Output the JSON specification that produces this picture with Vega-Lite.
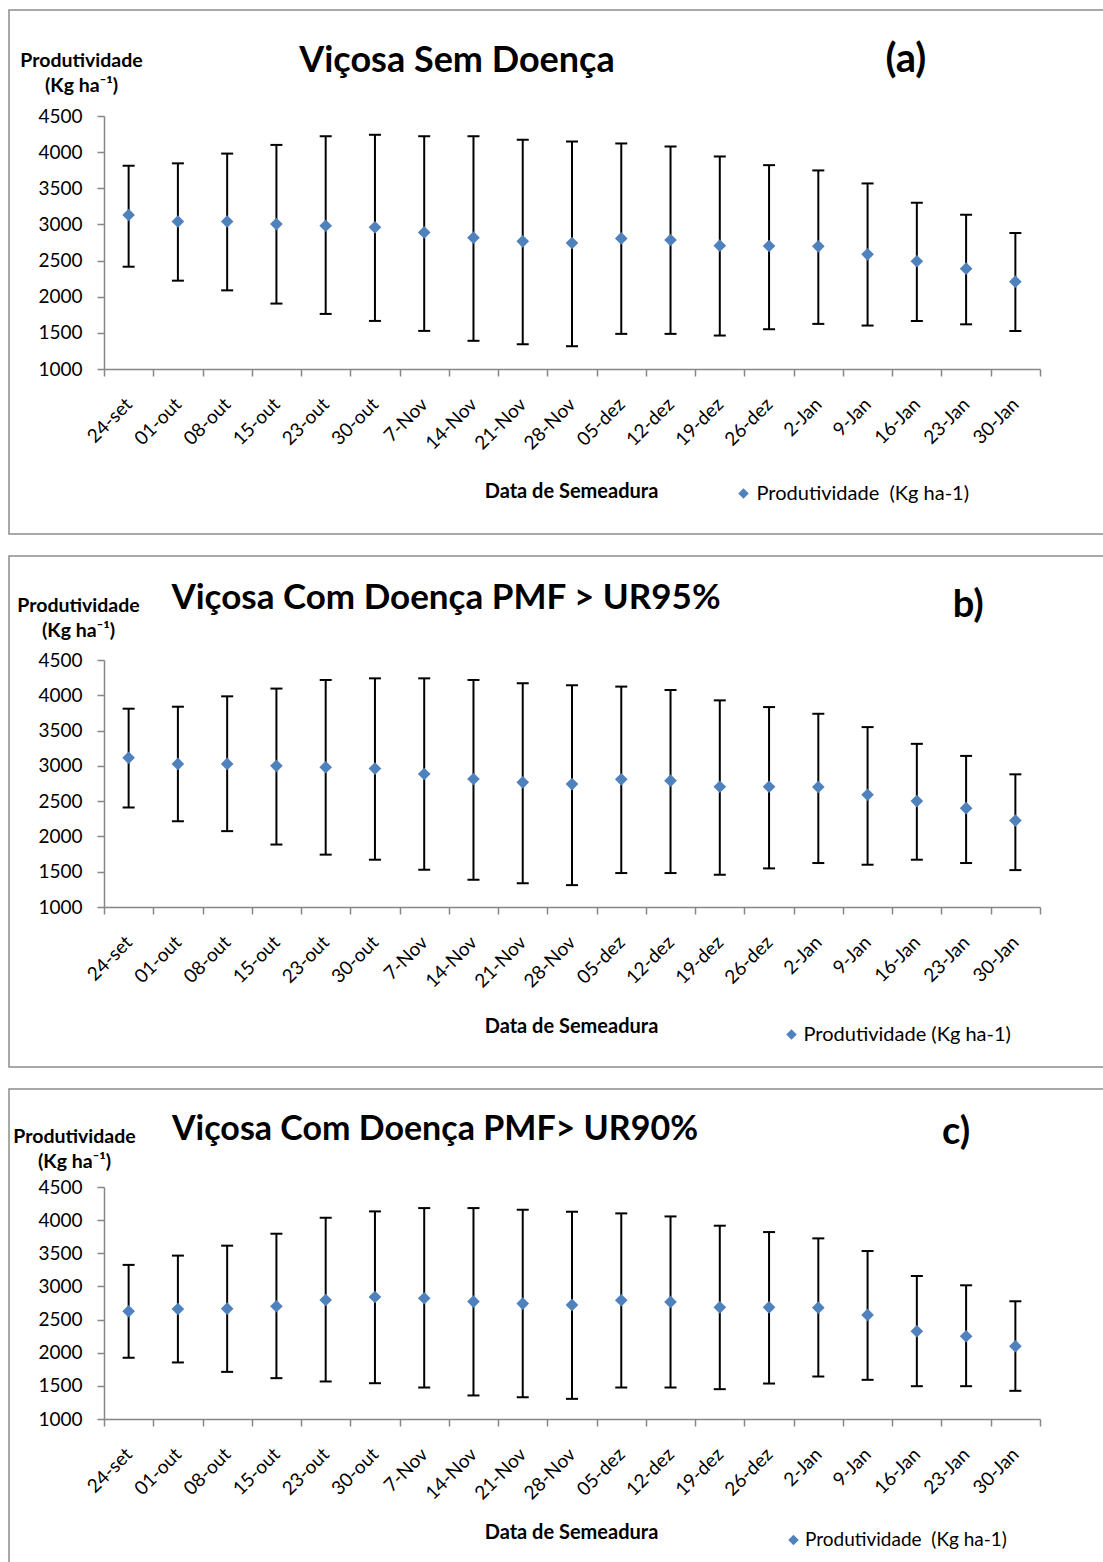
{
  "$schema": "https://vega.github.io/schema/vega-lite/v6.json",
  "padding": {"left": 1, "top": 9, "right": 0, "bottom": 0},
  "autosize": {"type": "pad"},
  "spacing": 20,
  "background": "white",
  "config": {
    "font": "Lato",
    "view": {"stroke": "#8c8c8c", "strokeWidth": 1.5},
    "title": {"font": "Lato", "fontSize": 36, "fontWeight": "bold", "color": "#000000", "anchor": "middle", "frame": "group", "baseline": "alphabetic"},
    "axis": {"domainColor": "#868686", "domainWidth": 1.5, "tickColor": "#868686", "tickWidth": 1.5, "tickSize": 7, "labelFont": "Lato", "labelFontSize": 19, "labelColor": "#000000", "grid": false, "titleFont": "Lato", "titleFontWeight": "bold", "titleColor": "#000000"},
    "axisX": {"labelAngle": -45, "labelAlign": "right", "labelBaseline": "middle", "tickBand": "extent", "labelPadding": 25, "titleFontSize": 20, "titleAlign": "center", "titleBaseline": "alphabetic", "titleX": 562},
    "axisY": {"labelPadding": 15, "format": "d", "titleAngle": 0, "titleAlign": "center", "titleBaseline": "alphabetic", "titleFontSize": 19.5, "titleLineHeight": 25, "offset": -95},
    "legend": {"orient": "none", "padding": 0, "labelFont": "Lato", "labelFontSize": 20, "labelColor": "#000000", "symbolSize": 110, "labelLimit": 400, "symbolStrokeWidth": 0}
  },
  "resolve": {"scale": {"color": "independent", "shape": "independent"}, "legend": {"color": "independent", "shape": "independent"}},
  "datasets": {
    "prod": [
      {"p": "a", "d": "24-set", "v": 3130, "lo": 2415, "hi": 3812},
      {"p": "a", "d": "01-out", "v": 3040, "lo": 2222, "hi": 3845},
      {"p": "a", "d": "08-out", "v": 3040, "lo": 2088, "hi": 3980},
      {"p": "a", "d": "15-out", "v": 3005, "lo": 1905, "hi": 4100},
      {"p": "a", "d": "23-out", "v": 2982, "lo": 1762, "hi": 4220},
      {"p": "a", "d": "30-out", "v": 2960, "lo": 1665, "hi": 4240},
      {"p": "a", "d": "7-Nov", "v": 2890, "lo": 1527, "hi": 4220},
      {"p": "a", "d": "14-Nov", "v": 2817, "lo": 1390, "hi": 4220},
      {"p": "a", "d": "21-Nov", "v": 2766, "lo": 1343, "hi": 4170},
      {"p": "a", "d": "28-Nov", "v": 2743, "lo": 1315, "hi": 4147},
      {"p": "a", "d": "05-dez", "v": 2807, "lo": 1486, "hi": 4120},
      {"p": "a", "d": "12-dez", "v": 2784, "lo": 1486, "hi": 4078},
      {"p": "a", "d": "19-dez", "v": 2706, "lo": 1463, "hi": 3940},
      {"p": "a", "d": "26-dez", "v": 2702, "lo": 1550, "hi": 3820},
      {"p": "a", "d": "2-Jan", "v": 2697, "lo": 1624, "hi": 3747},
      {"p": "a", "d": "9-Jan", "v": 2586, "lo": 1601, "hi": 3567},
      {"p": "a", "d": "16-Jan", "v": 2490, "lo": 1664, "hi": 3300},
      {"p": "a", "d": "23-Jan", "v": 2388, "lo": 1618, "hi": 3134},
      {"p": "a", "d": "30-Jan", "v": 2208, "lo": 1526, "hi": 2881},
      {"p": "b", "d": "24-set", "v": 3115, "lo": 2410, "hi": 3810},
      {"p": "b", "d": "01-out", "v": 3028, "lo": 2215, "hi": 3838},
      {"p": "b", "d": "08-out", "v": 3028, "lo": 2075, "hi": 3985},
      {"p": "b", "d": "15-out", "v": 3000, "lo": 1885, "hi": 4095},
      {"p": "b", "d": "23-out", "v": 2980, "lo": 1742, "hi": 4217},
      {"p": "b", "d": "30-out", "v": 2961, "lo": 1670, "hi": 4240},
      {"p": "b", "d": "7-Nov", "v": 2885, "lo": 1528, "hi": 4240},
      {"p": "b", "d": "14-Nov", "v": 2814, "lo": 1386, "hi": 4217},
      {"p": "b", "d": "21-Nov", "v": 2766, "lo": 1338, "hi": 4170},
      {"p": "b", "d": "28-Nov", "v": 2742, "lo": 1310, "hi": 4142},
      {"p": "b", "d": "05-dez", "v": 2809, "lo": 1481, "hi": 4123},
      {"p": "b", "d": "12-dez", "v": 2790, "lo": 1481, "hi": 4075},
      {"p": "b", "d": "19-dez", "v": 2704, "lo": 1457, "hi": 3928},
      {"p": "b", "d": "26-dez", "v": 2704, "lo": 1547, "hi": 3833},
      {"p": "b", "d": "2-Jan", "v": 2700, "lo": 1623, "hi": 3738},
      {"p": "b", "d": "9-Jan", "v": 2591, "lo": 1599, "hi": 3549},
      {"p": "b", "d": "16-Jan", "v": 2501, "lo": 1670, "hi": 3312},
      {"p": "b", "d": "23-Jan", "v": 2401, "lo": 1623, "hi": 3141},
      {"p": "b", "d": "30-Jan", "v": 2225, "lo": 1523, "hi": 2880},
      {"p": "c", "d": "24-set", "v": 2625, "lo": 1924, "hi": 3325},
      {"p": "c", "d": "01-out", "v": 2660, "lo": 1853, "hi": 3465},
      {"p": "c", "d": "08-out", "v": 2665, "lo": 1711, "hi": 3615},
      {"p": "c", "d": "15-out", "v": 2701, "lo": 1616, "hi": 3795},
      {"p": "c", "d": "23-out", "v": 2796, "lo": 1566, "hi": 4036},
      {"p": "c", "d": "30-out", "v": 2841, "lo": 1540, "hi": 4132},
      {"p": "c", "d": "7-Nov", "v": 2821, "lo": 1475, "hi": 4182},
      {"p": "c", "d": "14-Nov", "v": 2771, "lo": 1355, "hi": 4182},
      {"p": "c", "d": "21-Nov", "v": 2741, "lo": 1329, "hi": 4157},
      {"p": "c", "d": "28-Nov", "v": 2721, "lo": 1304, "hi": 4127},
      {"p": "c", "d": "05-dez", "v": 2791, "lo": 1475, "hi": 4102},
      {"p": "c", "d": "12-dez", "v": 2766, "lo": 1475, "hi": 4056},
      {"p": "c", "d": "19-dez", "v": 2685, "lo": 1450, "hi": 3916},
      {"p": "c", "d": "26-dez", "v": 2685, "lo": 1535, "hi": 3820},
      {"p": "c", "d": "2-Jan", "v": 2680, "lo": 1641, "hi": 3725},
      {"p": "c", "d": "9-Jan", "v": 2570, "lo": 1591, "hi": 3534},
      {"p": "c", "d": "16-Jan", "v": 2324, "lo": 1495, "hi": 3157},
      {"p": "c", "d": "23-Jan", "v": 2249, "lo": 1495, "hi": 3017},
      {"p": "c", "d": "30-Jan", "v": 2098, "lo": 1425, "hi": 2776}
    ]
  },
  "vconcat": [
    {
      "width": 1100, "height": 524,
      "title": {"text": "Viçosa Sem Doença", "dx": -102, "offset": -70},
      "data": {"name": "prod"},
      "transform": [{"filter": "datum.p === 'a'"}],
      "encoding": {
        "x": {"field": "d", "type": "nominal", "scale": {"domain": ["24-set","01-out","08-out","15-out","23-out","30-out","7-Nov","14-Nov","21-Nov","28-Nov","05-dez","12-dez","19-dez","26-dez","2-Jan","9-Jan","16-Jan","23-Jan","30-Jan"], "range": [95, 1031], "paddingInner": 0, "paddingOuter": 0},
          "axis": {"title": "Data de Semeadura", "offset": -165, "titleY": 128}}
      },
      "layer": [
        {"mark": {"type": "rule", "color": "#000000", "strokeWidth": 2},
         "encoding": {"y": {"field": "lo", "type": "quantitative", "scale": {"domain": [1000, 4500], "range": [359, 106], "nice": false, "zero": false},
            "axis": {"title": ["Produtividade", "(Kg ha⁻¹)"], "values": [1000,1500,2000,2500,3000,3500,4000,4500], "titleX": -23, "titleY": 56}},
          "y2": {"field": "hi"}}},
        {"mark": {"type": "tick", "color": "#000000", "size": 12, "thickness": 2, "opacity": 1}, "encoding": {"y": {"field": "lo", "type": "quantitative"}}},
        {"mark": {"type": "tick", "color": "#000000", "size": 12, "thickness": 2, "opacity": 1}, "encoding": {"y": {"field": "hi", "type": "quantitative"}}},
        {"mark": {"type": "point", "filled": true, "size": 160, "opacity": 1, "strokeWidth": 0},
         "encoding": {"y": {"field": "v", "type": "quantitative"},
          "color": {"datum": "Produtividade\u00a0 (Kg ha-1)", "scale": {"range": ["#4F81BD"]}, "legend": {"title": null, "legendX": 724.5, "legendY": 473.5, "labelOffset": 3}},
          "shape": {"datum": "Produtividade\u00a0 (Kg ha-1)", "scale": {"range": ["diamond"]}, "legend": {"title": null, "legendX": 724.5, "legendY": 473.5, "labelOffset": 3}}}},
        {"transform": [{"filter": "datum.d === '24-set'"}],
         "mark": {"type": "text", "text": "(a)", "font": "Lato", "fontSize": 40, "fontWeight": "bold", "align": "center", "baseline": "alphabetic", "dx": -11, "color": "#000000"},
         "encoding": {"x": {"datum": "16-Jan"}, "y": {"datum": 5109}}}
      ]
    },
    {
      "width": 1100, "height": 511,
      "title": {"text": "Viçosa Com Doença PMF > UR95%", "dx": -113, "offset": -60, "fontSize": 35},
      "data": {"name": "prod"},
      "transform": [{"filter": "datum.p === 'b'"}],
      "encoding": {
        "x": {"field": "d", "type": "nominal", "scale": {"domain": ["24-set","01-out","08-out","15-out","23-out","30-out","7-Nov","14-Nov","21-Nov","28-Nov","05-dez","12-dez","19-dez","26-dez","2-Jan","9-Jan","16-Jan","23-Jan","30-Jan"], "range": [95, 1031], "paddingInner": 0, "paddingOuter": 0},
          "axis": {"title": "Data de Semeadura", "offset": -160, "titleY": 125}}
      },
      "layer": [
        {"mark": {"type": "rule", "color": "#000000", "strokeWidth": 2},
         "encoding": {"y": {"field": "lo", "type": "quantitative", "scale": {"domain": [1000, 4500], "range": [351, 104], "nice": false, "zero": false},
            "axis": {"title": ["Produtividade", "(Kg ha⁻¹)"], "values": [1000,1500,2000,2500,3000,3500,4000,4500], "titleX": -26, "titleY": 55}},
          "y2": {"field": "hi"}}},
        {"mark": {"type": "tick", "color": "#000000", "size": 12, "thickness": 2, "opacity": 1}, "encoding": {"y": {"field": "lo", "type": "quantitative"}}},
        {"mark": {"type": "tick", "color": "#000000", "size": 12, "thickness": 2, "opacity": 1}, "encoding": {"y": {"field": "hi", "type": "quantitative"}}},
        {"mark": {"type": "point", "filled": true, "size": 160, "opacity": 1, "strokeWidth": 0},
         "encoding": {"y": {"field": "v", "type": "quantitative"},
          "color": {"datum": "Produtividade (Kg ha-1)", "scale": {"range": ["#4F81BD"]}, "legend": {"title": null, "legendX": 772.5, "legendY": 468.5, "labelOffset": 2}},
          "shape": {"datum": "Produtividade (Kg ha-1)", "scale": {"range": ["diamond"]}, "legend": {"title": null, "legendX": 772.5, "legendY": 468.5, "labelOffset": 2}}}},
        {"transform": [{"filter": "datum.d === '24-set'"}],
         "mark": {"type": "text", "text": "b)", "font": "Lato", "fontSize": 38, "fontWeight": "bold", "align": "center", "baseline": "alphabetic", "dx": 2, "color": "#000000"},
         "encoding": {"x": {"datum": "23-Jan"}, "y": {"datum": 5109}}}
      ]
    },
    {
      "width": 1100, "height": 476,
      "title": {"text": "Viçosa Com Doença PMF> UR90%", "dx": -124, "offset": -58, "fontSize": 34},
      "data": {"name": "prod"},
      "transform": [{"filter": "datum.p === 'c'"}],
      "encoding": {
        "x": {"field": "d", "type": "nominal", "scale": {"domain": ["24-set","01-out","08-out","15-out","23-out","30-out","7-Nov","14-Nov","21-Nov","28-Nov","05-dez","12-dez","19-dez","26-dez","2-Jan","9-Jan","16-Jan","23-Jan","30-Jan"], "range": [95, 1031], "paddingInner": 0, "paddingOuter": 0},
          "axis": {"title": "Data de Semeadura", "offset": -146, "titleY": 119}}
      },
      "layer": [
        {"mark": {"type": "rule", "color": "#000000", "strokeWidth": 2},
         "encoding": {"y": {"field": "lo", "type": "quantitative", "scale": {"domain": [1000, 4500], "range": [330, 98], "nice": false, "zero": false},
            "axis": {"title": ["Produtividade", "(Kg ha⁻¹)"], "values": [1000,1500,2000,2500,3000,3500,4000,4500], "titleX": -30, "titleY": 53}},
          "y2": {"field": "hi"}}},
        {"mark": {"type": "tick", "color": "#000000", "size": 12, "thickness": 2, "opacity": 1}, "encoding": {"y": {"field": "lo", "type": "quantitative"}}},
        {"mark": {"type": "tick", "color": "#000000", "size": 12, "thickness": 2, "opacity": 1}, "encoding": {"y": {"field": "hi", "type": "quantitative"}}},
        {"mark": {"type": "point", "filled": true, "size": 160, "opacity": 1, "strokeWidth": 0},
         "encoding": {"y": {"field": "v", "type": "quantitative"},
          "color": {"datum": "Produtividade\u00a0 (Kg ha-1)", "scale": {"range": ["#4F81BD"]}, "legend": {"title": null, "legendX": 775, "legendY": 441.5, "labelOffset": 2, "labelFontSize": 19}},
          "shape": {"datum": "Produtividade\u00a0 (Kg ha-1)", "scale": {"range": ["diamond"]}, "legend": {"title": null, "legendX": 775, "legendY": 441.5, "labelOffset": 2, "labelFontSize": 19}}}},
        {"transform": [{"filter": "datum.d === '24-set'"}],
         "mark": {"type": "text", "text": "c)", "font": "Lato", "fontSize": 38, "fontWeight": "bold", "align": "center", "baseline": "alphabetic", "dx": -10, "color": "#000000"},
         "encoding": {"x": {"datum": "23-Jan"}, "y": {"datum": 5149}}}
      ]
    }
  ]
}
